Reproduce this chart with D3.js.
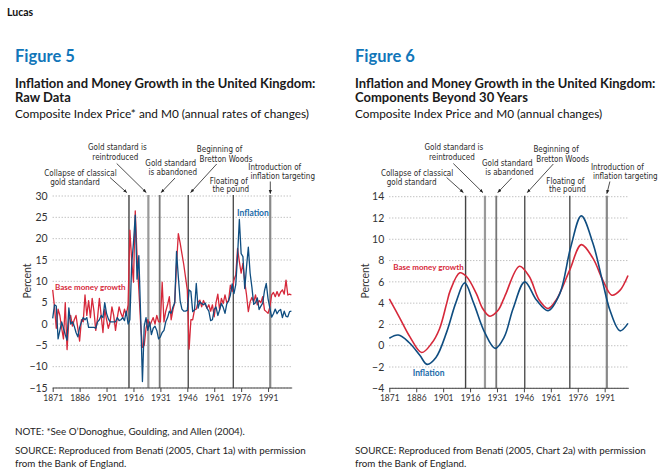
<!DOCTYPE html>
<html>
<head>
<meta charset="utf-8">
<script src="https://cdn.jsdelivr.net/npm/d3@7"></script>
<style>
  body { margin: 0; background: #fff; }
  svg { display: block; font-family: Lato, "Open Sans", sans-serif; }
  .narrow { font-family: "Liberation Sans Narrow", "DejaVu Sans Condensed", Lato, sans-serif; }
</style>
</head>
<body>
<svg id="chart" width="665" height="474"></svg>
<script>
// Figure 5: annual rates, 1871-2004
const rawYears = d3.range(1871, 2005);
const rawInflation = [
  1.3, 4.5, 4.2, -3.5, -1.5, 0.5, -1.0, -2.5, -3.8, 3.8,
  0.0, 0.5, -0.5, -2.0, -3.0, -0.8, 0.5, 1.5, 1.0, 1.5,
  -0.8, -0.8, -0.8, -0.8, -1.0, 0.5, 1.0, 2.0, 1.5, 5.0,
  2.5, 1.2, 0.5, 0.5, 0.5, 0.5, 1.5, 0.8, 1.0, 1.5,
  0.8, 3.0, 0.0, 1.0, 14.0, 19.0, 25.5, 10.5, 16.0, 2.0,
  -13.5, -0.5, 1.5, -1.5, 0.5, -2.5, -1.0, -0.5, -1.5, -3.5,
  -3.0, -2.0, -1.5, 0.5, 1.5, 3.0, 2.5, 4.0, 5.0, 17.0,
  11.0, 5.5, 3.5, 3.0, 3.0, 3.2, 8.0, 7.6, 2.9, 3.3,
  9.5, 3.7, 5.2, 4.8, 4.5, 4.9, 3.7, 3.0, 0.8, 1.0,
  3.4, 4.0, 2.0, 3.3, 4.8, 3.9, 2.5, 4.7, 5.4, 6.8,
  9.4, 7.1, 9.2, 16.0, 24.5, 16.5, 15.8, 8.3, 13.4, 18.0,
  11.9, 8.6, 4.6, 5.0, 6.1, 3.4, 4.2, 4.9, 7.8, 9.5,
  5.9, 3.7, 1.6, 2.4, 3.5, 2.4, 3.1, 3.4, 1.5, 3.0,
  1.8, 1.7, 2.9, 3.0
];
const rawMoney = [
  8.0, 4.0, -1.0, 3.5, 2.0, -1.0, -3.5, 5.0, -6.0, 1.0,
  2.0, -0.5, 1.0, 2.0, -1.0, -4.0, 1.0, 0.5, 6.8, 2.0,
  5.5, 1.5, 6.0, 3.0, -1.5, 1.5, 6.0, 2.0, -2.0, 3.5,
  1.0, -1.0, 0.5, 4.0, 2.0, -1.5, 1.5, 4.0, 2.5, 1.5,
  3.5, 2.0, 4.5, 22.0, 15.0, 9.8, 26.5, 16.0, 8.0, 0.0,
  -5.5, -5.0, -1.0, 1.0, -0.5, 0.5, 1.5, 0.0, 2.0, 0.5,
  0.5, 9.8, 0.5, 3.0, 4.5, 6.4, 1.0, 3.3, 5.0, 14.0,
  21.2, 19.0, 16.5, 14.0, 11.0, 8.0, -5.9, 1.0, 1.0, 3.3,
  3.5, 5.1, 5.6, 4.0, 5.5, 4.5, 3.7, 4.5, 3.0, 4.5,
  1.7, 5.0, 7.0, 3.3, 6.0, 4.8, 6.8, 5.0, 5.5, 9.1,
  7.6, 10.3, 11.5, 17.7, 14.6, 11.9, 14.2, 9.9, 6.8, 2.9,
  5.2, 6.2, 5.2, 6.8, 4.5, 5.5, 5.0, 6.4, 3.3, 2.9,
  2.5, 4.0, 6.8, 7.4, 6.4, 7.6, 6.5, 7.5, 8.0, 7.0,
  10.3, 6.8, 7.0, 6.8
];

// Figure 6: components beyond 30 years (year, value)
const trendInflation = [
  [1871, 0.7], [1876, 1.0], [1882, 0.3], [1888, -0.9], [1892, -1.75],
  [1897, -1.1], [1903, 1.3], [1908, 4.0], [1913, 5.9], [1918, 4.0],
  [1924, 1.3], [1930, -0.25], [1935, 0.8], [1940, 3.5], [1946.5, 6.0],
  [1953, 4.3], [1959.5, 3.3], [1966, 4.9], [1972, 9.2], [1978, 12.2],
  [1984.5, 9.6], [1990, 5.9], [1994, 3.3], [1999.5, 1.4], [2004, 2.1]
];
const trendMoney = [
  [1871, 4.4], [1877, 2.55], [1882.5, 0.83], [1889, -0.64], [1894.5, 0.2],
  [1899, 1.6], [1903, 4.0], [1905, 5.2], [1910.3, 6.85], [1914, 6.5],
  [1919.5, 4.9], [1923, 3.5], [1927, 2.77], [1931.5, 3.3], [1934.5, 4.3],
  [1936, 4.9], [1943.5, 7.47], [1949, 6.5], [1954.5, 4.3], [1959.5, 3.5],
  [1964, 4.3], [1971.5, 7.1], [1978, 9.5], [1984.5, 8.2], [1990, 6.15],
  [1995, 4.75], [1999.5, 5.2], [2004, 6.6]
];

const xTicks = [1871, 1886, 1901, 1916, 1931, 1946, 1961, 1976, 1991];
const eventYears = [1913.5, 1924.3, 1930.6, 1946.5, 1971.6, 1992.2];
const eventStyles = [
  { c: '#444', w: 1.4 }, { c: '#999', w: 2.2 }, { c: '#777', w: 1.8 },
  { c: '#222', w: 1.1 }, { c: '#222', w: 1.1 }, { c: '#888', w: 2.2 }
];
// annotation text, positioned relative to the plot's left edge
const annotations = [
  { lines: ['Collapse of classical', 'gold standard'], cx: [27.8, 22.3], y: [176, 185], arrow: [57.3, 177.5, 74, 192.5] },
  { lines: ['Gold standard is', 'reintroduced'], cx: [64.6, 62.6], y: [150, 159.5], arrow: [64, 163.5, 93.5, 192.5] },
  { lines: ['Gold standard', 'is abandoned'], cx: [118, 120.1], y: [166, 175], arrow: [122.3, 178, 108.5, 192.5] },
  { lines: ['Beginning of', 'Bretton Woods'], cx: [166.8, 173.3], y: [152, 162], arrow: [164, 164, 138, 192.5] },
  { lines: ['Floating of', 'the pound'], cx: [176, 178.1], y: [183.5, 192], arrow: null },
  { lines: ['Introduction of', 'inflation targeting'], cx: [222, 230], y: [169.5, 178.5], arrow: [217.6, 181.5, 217.6, 193.5] }
];

const RED = '#d6283a', BLUE = '#0f4d80', FIGBLUE = '#1176b9';

const svg = d3.select('#chart');
svg.append('rect').attr('width', 665).attr('height', 474).attr('fill', '#fff');

svg.append('defs').append('marker')
  .attr('id', 'arr').attr('viewBox', '0 0 10 10')
  .attr('refX', 9).attr('refY', 5)
  .attr('markerWidth', 5).attr('markerHeight', 5)
  .attr('orient', 'auto')
  .append('path').attr('d', 'M0,1 L10,5 L0,9 Z').attr('fill', '#222');

svg.append('text').attr('x', 7).attr('y', 16)
  .attr('font-size', 10.5).attr('font-weight', 700).attr('fill', '#111').text('Lucas');

function header(x, fig, t1, t2, sub) {
  svg.append('text').attr('x', x).attr('y', 62)
    .attr('font-size', 16.5).attr('font-weight', 700).attr('fill', FIGBLUE).text(fig);
  svg.append('text').attr('x', x).attr('y', 87.5)
    .attr('font-size', 13).attr('font-weight', 700).attr('fill', '#1a1a1a').text(t1);
  svg.append('text').attr('x', x).attr('y', 102)
    .attr('font-size', 13).attr('font-weight', 700).attr('fill', '#1a1a1a').text(t2);
  svg.append('text').attr('x', x).attr('y', 117.5)
    .attr('font-size', 11.8).attr('fill', '#111').text(sub);
}

header(15, 'Figure 5', 'Inflation and Money Growth in the United Kingdom:', 'Raw Data',
  'Composite Index Price* and M0 (annual rates of changes)');
header(355, 'Figure 6', 'Inflation and Money Growth in the United Kingdom:', 'Components Beyond 30 Years',
  'Composite Index Price and M0 (annual changes)');

function drawPanel(p) {
  const g = svg.append('g');
  const x = d3.scaleLinear().domain([1871, 2004]).range([p.x0, p.x0 + 238.7]);
  const y = d3.scaleLinear().domain(p.yDomain).range([p.yBottom, p.yTop]);
  const xEnd = p.x0 + 239.5;

  // grid + y labels
  const yt = d3.range(p.yDomain[0], p.yDomain[1] + 0.001, p.yStep);
  g.append('g').selectAll('line').data(yt).join('line')
    .attr('x1', p.x0).attr('x2', xEnd)
    .attr('y1', d => y(d)).attr('y2', d => y(d))
    .attr('stroke', '#a8a8a8').attr('stroke-width', 1)
    .attr('stroke-dasharray', '1,2');
  g.append('g').selectAll('text').data(yt).join('text')
    .attr('x', p.x0 - 5).attr('y', d => y(d)).attr('dy', '0.35em')
    .attr('text-anchor', 'end').attr('font-size', 10.5).attr('fill', '#333')
    .text(d => d < 0 ? '\u2212' + Math.abs(d) : d);

  g.append('text')
    .attr('transform', `translate(${p.percentX},281) rotate(-90)`)
    .attr('text-anchor', 'middle').attr('font-size', 10.5).attr('fill', '#333')
    .text('Percent');

  // event lines
  g.append('g').selectAll('line').data(eventYears).join('line')
    .attr('x1', d => x(d)).attr('x2', d => x(d))
    .attr('y1', p.yTop - 1).attr('y2', p.yBottom)
    .attr('stroke', (d, i) => eventStyles[i].c)
    .attr('stroke-width', (d, i) => eventStyles[i].w);

  // series
  const line = d3.line().x(d => x(d[0])).y(d => y(d[1])).curve(p.curve);
  g.append('path').datum(p.money).attr('d', line)
    .attr('fill', 'none').attr('stroke', RED).attr('stroke-width', p.lw)
    .attr('stroke-linejoin', 'round');
  g.append('path').datum(p.inflation).attr('d', line)
    .attr('fill', 'none').attr('stroke', BLUE).attr('stroke-width', p.lw)
    .attr('stroke-linejoin', 'round');

  // x axis
  const ax = g.append('g').attr('transform', `translate(0,${p.yBottom})`)
    .call(d3.axisBottom(x).tickValues(xTicks).tickFormat(d3.format('d'))
      .tickSizeOuter(0).tickSize(4).tickPadding(3));
  ax.select('.domain').attr('d', `M${p.x0},0H${xEnd}`).attr('stroke', '#444');
  ax.selectAll('.tick line').attr('stroke', '#444');
  ax.selectAll('text').attr('font-size', 8.5).attr('fill', '#333')
    .attr('font-family', 'Lato, sans-serif');

  // annotations
  const an = g.append('g').attr('class', 'narrow').attr('font-size', 8).attr('fill', '#2a2a2a');
  annotations.forEach((a, i) => {
    const shift = (p.textShift && p.textShift[i]) || 0;
    a.lines.forEach((t, j) => {
      an.append('text').attr('x', p.x0 + a.cx[j] + shift).attr('y', a.y[j])
        .attr('text-anchor', 'middle').text(t);
    });
    if (a.arrow) {
      an.append('line')
        .attr('x1', p.x0 + a.arrow[0] + shift * 0.5).attr('y1', a.arrow[1])
        .attr('x2', p.x0 + a.arrow[2]).attr('y2', a.arrow[3])
        .attr('stroke', '#222').attr('stroke-width', 0.8)
        .attr('marker-end', 'url(#arr)');
    }
  });

  // series labels
  g.append('text').attr('x', p.moneyLabel[0]).attr('y', p.moneyLabel[1])
    .attr('font-size', 8).attr('font-weight', 700).attr('fill', RED).text('Base money growth');
  g.append('text').attr('x', p.inflLabel[0]).attr('y', p.inflLabel[1])
    .attr('font-size', 8.5).attr('font-weight', 700).attr('fill', '#1a6aa8').text('Inflation');
}

drawPanel({
  x0: 52.7, yTop: 196, yBottom: 388, yDomain: [-15, 30], yStep: 5,
  percentX: 31, curve: d3.curveLinear, lw: 1.3,
  money: rawYears.map((yr, i) => [yr, rawMoney[i]]),
  inflation: rawYears.map((yr, i) => [yr, rawInflation[i]]),
  moneyLabel: [55, 290], inflLabel: [237, 215.5]
});

drawPanel({
  x0: 389.3, yTop: 196.7, yBottom: 388.3, yDomain: [-4, 14], yStep: 2,
  percentX: 369, curve: d3.curveCatmullRom.alpha(0.5), lw: 1.6,
  money: trendMoney, inflation: trendInflation,
  moneyLabel: [393.3, 270], inflLabel: [412.7, 376],
  textShift: { 5: 6 }
});

// footer
const foot = svg.append('g').attr('font-size', 9.8).attr('fill', '#222');
foot.append('text').attr('x', 15).attr('y', 435).text('NOTE: *See O\u2019Donoghue, Goulding, and Allen (2004).');
foot.append('text').attr('x', 15).attr('y', 454).text('SOURCE: Reproduced from Benati (2005, Chart 1a) with permission');
foot.append('text').attr('x', 15).attr('y', 466.5).text('from the Bank of England.');
foot.append('text').attr('x', 355).attr('y', 454).text('SOURCE: Reproduced from Benati (2005, Chart 2a) with permission');
foot.append('text').attr('x', 355).attr('y', 466.5).text('from the Bank of England.');
</script>
</body>
</html>
